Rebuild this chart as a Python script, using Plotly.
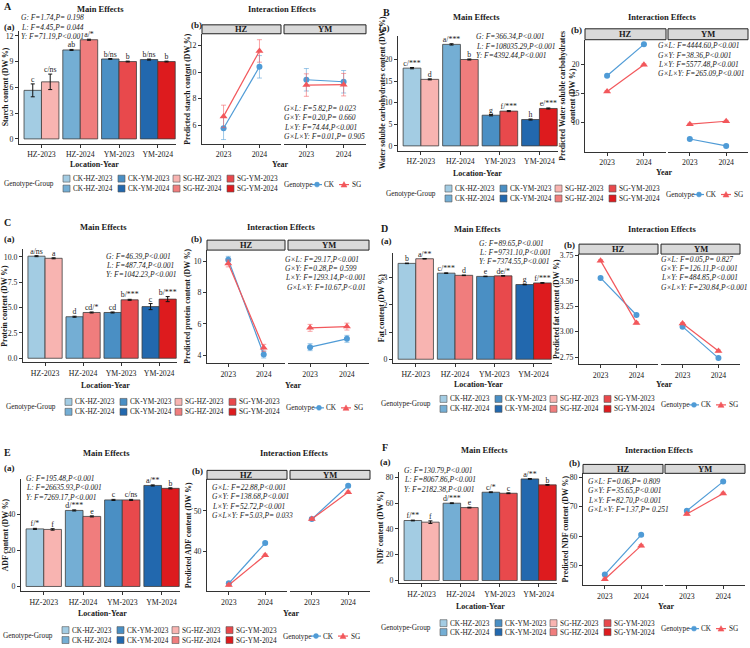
import plotly.graph_objects as go

FONT = "Liberation Serif"
W, H = 750, 648
TXT = "#1a1a1a"
AXC = "#333333"

# ---------------- shared labels / colours ----------------
categories = ["HZ-2023", "HZ-2024", "YM-2023", "YM-2024"]
years = ["2023", "2024"]
locations = ["HZ", "YM"]
ck_groups = ["CK-HZ-2023", "CK-HZ-2024", "CK-YM-2023", "CK-YM-2024"]
sg_groups = ["SG-HZ-2023", "SG-HZ-2024", "SG-YM-2023", "SG-YM-2024"]
ck_colors = ["#a3cce3", "#74aed4", "#4a8fc4", "#2268ae"]
sg_colors = ["#f8b4b1", "#f07d7d", "#e8494c", "#dd1b1e"]
genotypes = ["CK", "SG"]
line_colors = ["#4f9bd6", "#f2575b"]
err_colors = ["rgba(79,155,214,0.55)", "rgba(242,87,91,0.55)"]

# ---------------- A: starch ----------------
starch_ck = [5.65, 10.35, 9.30, 9.23]
starch_ck_err = [0.75, 0.06, 0.05, 0.06]
starch_sg = [6.64, 11.54, 9.00, 9.00]
starch_sg_err = [0.90, 0.06, 0.05, 0.05]
starch_ck_letters = ["c", "ab", "b/ns", "b/ns"]
starch_sg_letters = ["c/ns", "a/*", "b", "b"]
starch_pred_ck = [[5.75, 10.40], [9.42, 9.27]]
starch_pred_ck_err = [[0.85, 0.85], [0.85, 0.85]]
starch_pred_sg = [[6.65, 11.60], [9.02, 9.05]]
starch_pred_sg_err = [[0.85, 0.85], [0.85, 0.85]]
starch_main_stats = ["G: F=1.74,P= 0.198", "L: F=4.45,P= 0.044", "Y: F=71.19,P&lt;0.001"]
starch_int_stats = ["G×L: F=5.82,P= 0.023", "G×Y: F=0.20,P= 0.660",
                    "L×Y: F=74.44,P&lt;0.001", "G×L×Y: F=0.01,P= 0.905"]

# ---------------- B: water soluble carbohydrates ----------------
wsc_ck = [18.0, 23.5, 7.1, 6.1]
wsc_ck_err = [0.15, 0.15, 0.15, 0.12]
wsc_sg = [15.4, 20.0, 8.05, 8.66]
wsc_sg_err = [0.12, 0.12, 0.12, 0.12]
wsc_ck_letters = ["c/***", "a/***", "g", "h"]
wsc_sg_letters = ["d", "b", "f/***", "e/***"]
wsc_pred_ck = [[18.0, 23.4], [7.15, 5.97]]
wsc_pred_ck_err = [[0.15, 0.15], [0.15, 0.15]]
wsc_pred_sg = [[15.3, 19.9], [9.7, 10.2]]
wsc_pred_sg_err = [[0.15, 0.15], [0.15, 0.15]]
wsc_main_stats = ["G: F=366.34,P&lt;0.001", "L: F=108035.29,P&lt;0.001", "Y: F=4392.44,P&lt;0.001"]
wsc_int_stats = ["G×L: F=4444.60,P&lt;0.001", "G×Y: F=38.36,P&lt;0.001",
                 "L×Y: F=5577.48,P&lt;0.001", "G×L×Y: F=265.09,P&lt;0.001"]

# ---------------- C: protein ----------------
protein_ck = [10.08, 4.10, 4.52, 5.10]
protein_ck_err = [0.05, 0.05, 0.05, 0.30]
protein_sg = [9.87, 4.52, 5.77, 5.84]
protein_sg_err = [0.05, 0.05, 0.05, 0.25]
protein_ck_letters = ["a/ns", "d", "cd", "c"]
protein_sg_letters = ["a", "cd/*", "b/***", "b/***"]
protein_pred_ck = [[10.08, 4.05], [4.52, 5.05]]
protein_pred_ck_err = [[0.22, 0.22], [0.22, 0.22]]
protein_pred_sg = [[9.85, 4.48], [5.75, 5.83]]
protein_pred_sg_err = [[0.22, 0.22], [0.22, 0.22]]
protein_main_stats = ["G: F=46.39,P&lt;0.001", "L: F=487.74,P&lt;0.001", "Y: F=1042.23,P&lt;0.001"]
protein_int_stats = ["G×L: F=29.17,P&lt;0.001", "G×Y: F=0.28,P= 0.599",
                     "L×Y: F=1293.14,P&lt;0.001", " G×L×Y: F=10.67,P&lt;0.01"]

# ---------------- D: fat ----------------
fat_ck = [3.53, 3.17, 3.05, 2.75]
fat_ck_err = [0.01, 0.01, 0.01, 0.01]
fat_sg = [3.70, 3.09, 3.07, 2.81]
fat_sg_err = [0.01, 0.01, 0.01, 0.01]
fat_ck_letters = ["b", "c/***", "e", "g"]
fat_sg_letters = ["a/**", "d", "de/*", "f/***"]
fat_pred_ck = [[3.53, 3.165], [3.05, 2.74]]
fat_pred_ck_err = [[0.01, 0.01], [0.01, 0.01]]
fat_pred_sg = [[3.70, 3.087], [3.08, 2.81]]
fat_pred_sg_err = [[0.01, 0.01], [0.01, 0.01]]
fat_main_stats = ["G: F=89.65,P&lt;0.001", "L: F=9731.10,P&lt;0.001", "Y: F=7374.55,P&lt;0.001"]
fat_int_stats = ["G×L: F=0.05,P= 0.827", "G×Y: F=126.11,P&lt;0.001",
                 "L×Y: F=484.85,P&lt;0.001", "G×L×Y: F=230.84,P&lt;0.001"]

# ---------------- E: ADF ----------------
adf_ck = [31.8, 42.0, 47.8, 55.8]
adf_ck_err = [0.3, 0.3, 0.3, 0.3]
adf_sg = [31.5, 38.7, 47.8, 54.2]
adf_sg_err = [0.4, 0.3, 0.3, 0.3]
adf_ck_letters = ["f/*", "d/***", "c", "a/**"]
adf_sg_letters = ["f", "e", "c/ns", "b"]
adf_pred_ck = [[32.2, 42.1], [48.0, 56.2]]
adf_pred_ck_err = [[0.3, 0.3], [0.3, 0.3]]
adf_pred_sg = [[31.8, 39.1], [48.0, 54.6]]
adf_pred_sg_err = [[0.3, 0.3], [0.3, 0.3]]
adf_main_stats = ["G: F=195.48,P&lt;0.001", "L: F=26635.93,P&lt;0.001", "Y: F=7269.17,P&lt;0.001"]
adf_int_stats = ["G×L: F=22.88,P&lt;0.001", "G×Y: F=138.68,P&lt;0.001",
                 "L×Y: F=52.72,P&lt;0.001", "G×L×Y: F=5.03,P= 0.033"]

# ---------------- F: NDF ----------------
ndf_ck = [46.5, 59.9, 68.4, 78.7]
ndf_ck_err = [0.3, 0.3, 0.3, 0.3]
ndf_sg = [45.2, 56.5, 67.6, 74.1]
ndf_sg_err = [1.0, 0.3, 0.3, 0.3]
ndf_ck_letters = ["f/**", "d/***", "c/*", "a/**"]
ndf_sg_letters = ["f", "e", "c", "b"]
ndf_pred_ck = [[47.0, 60.45], [68.6, 78.5]]
ndf_pred_ck_err = [[0.4, 0.4], [0.4, 0.4]]
ndf_pred_sg = [[45.4, 56.8], [67.5, 74.5]]
ndf_pred_sg_err = [[0.4, 0.4], [0.4, 0.4]]
ndf_main_stats = ["G: F=130.79,P&lt;0.001", "L: F=8067.86,P&lt;0.001", "Y: F=2182.38,P&lt;0.001"]
ndf_int_stats = ["G×L: F=0.06,P= 0.809", "G×Y: F=35.65,P&lt;0.001",
                 "L×Y: F=82.70,P&lt;0.001", "G×L×Y: F=1.37,P= 0.251"]

# ---------------- panel specs (data refs + pixel geometry) ----------------
panels = [
    dict(letter="A", ck=starch_ck, ck_err=starch_ck_err, sg=starch_sg, sg_err=starch_sg_err,
         ck_lab=starch_ck_letters, sg_lab=starch_sg_letters,
         pck=starch_pred_ck, pck_err=starch_pred_ck_err, psg=starch_pred_sg, psg_err=starch_pred_sg_err,
         mstats=starch_main_stats, istats=starch_int_stats,
         ytitle="Starch content (DW %)", ptitle="Predicted starch content (DW %)",
         letter_xy=(3, 4), mt_xy=(100, 6), it_xy=(282, 6), a_xy=(3, 24), b_xy=(190, 22),
         bar_box=(19, 176, 28, 142), bar_yr=[-0.58, 12.58], bar_ticks=[0, 3, 6, 9, 12], bar_tt=None,
         bar_yt_x=5, mstats_xy=(20, 15), loc_xy=(94, 163),
         hz=(202, 281), ym=(284, 366), strip=(22, 31), ibot=142, int_yr=[4.57, 12.9],
         int_ticks=[6, 8, 10, 12], int_tt=None, int_yt_x=188, istats_xy=(283, 106), year_xy=(280, 163),
         g0=3, rows=(177, 187)),
    dict(letter="B", ck=wsc_ck, ck_err=wsc_ck_err, sg=wsc_sg, sg_err=wsc_sg_err,
         ck_lab=wsc_ck_letters, sg_lab=wsc_sg_letters,
         pck=wsc_pred_ck, pck_err=wsc_pred_ck_err, psg=wsc_pred_sg, psg_err=wsc_pred_sg_err,
         mstats=wsc_main_stats, istats=wsc_int_stats,
         ytitle="Water soluble carbohydrates content (DW %)",
         ptitle="Predicted Water soluble carbohydrates<br>content (DW %)",
         letter_xy=(382, 10), mt_xy=(476, 14), it_xy=(662, 14), a_xy=(378, 25), b_xy=(570, 27),
         bar_box=(398, 558, 33, 149), bar_yr=[-1.15, 25.5], bar_ticks=[0, 5, 10, 15, 20], bar_tt=None,
         bar_yt_x=382, mstats_xy=(475, 34), loc_xy=(477, 172),
         hz=(585, 666), ym=(668, 748), strip=(26, 37), ibot=150, int_yr=[4.95, 24.2],
         int_ticks=[10, 15, 20], int_tt=None, int_yt_x=568, istats_xy=(657, 43), year_xy=(664, 171),
         g0=385, rows=(187, 197)),
    dict(letter="C", ck=protein_ck, ck_err=protein_ck_err, sg=protein_sg, sg_err=protein_sg_err,
         ck_lab=protein_ck_letters, sg_lab=protein_sg_letters,
         pck=protein_pred_ck, pck_err=protein_pred_ck_err, psg=protein_pred_sg, psg_err=protein_pred_sg_err,
         mstats=protein_main_stats, istats=protein_int_stats,
         ytitle="Protein content (DW %)", ptitle="Predicted protein content (DW %)",
         letter_xy=(3, 221), mt_xy=(103, 226), it_xy=(281, 226), a_xy=(3, 238), b_xy=(190, 238),
         bar_box=(23, 177, 248, 362), bar_yr=[-0.39, 10.78], bar_ticks=[0, 2.5, 5, 7.5, 10],
         bar_tt=["0.0", "2.5", "5.0", "7.5", "10.0"],
         bar_yt_x=5, mstats_xy=(105, 255), loc_xy=(105, 385),
         hz=(207, 285), ym=(288, 369), strip=(239, 249), ibot=363, int_yr=[3.5, 10.7],
         int_ticks=[4, 6, 8, 10], int_tt=None, int_yt_x=188, istats_xy=(284, 258), year_xy=(293, 385),
         g0=5, rows=(402, 412)),
    dict(letter="D", ck=fat_ck, ck_err=fat_ck_err, sg=fat_sg, sg_err=fat_sg_err,
         ck_lab=fat_ck_letters, sg_lab=fat_sg_letters,
         pck=fat_pred_ck, pck_err=fat_pred_ck_err, psg=fat_pred_sg, psg_err=fat_pred_sg_err,
         mstats=fat_main_stats, istats=fat_int_stats,
         ytitle="Fat content (DW %)", ptitle="Predicted fat content (DW %)",
         letter_xy=(380, 227), mt_xy=(477, 228), it_xy=(662, 228), a_xy=(380, 240), b_xy=(563, 244),
         bar_box=(393, 552, 252, 363), bar_yr=[-0.146, 3.91], bar_ticks=[0, 1, 2, 3], bar_tt=None,
         bar_yt_x=381, mstats_xy=(478, 242), loc_xy=(478, 384),
         hz=(579, 658), ym=(661, 740), strip=(243, 253), ibot=364, int_yr=[2.68, 3.765],
         int_ticks=[2.75, 3.0, 3.25, 3.5, 3.75], int_tt=["2.75", "3.00", "3.25", "3.50", "3.75"],
         int_yt_x=556, istats_xy=(660, 258), year_xy=(664, 384),
         g0=380, rows=(399, 409)),
    dict(letter="E", ck=adf_ck, ck_err=adf_ck_err, sg=adf_sg, sg_err=adf_sg_err,
         ck_lab=adf_ck_letters, sg_lab=adf_sg_letters,
         pck=adf_pred_ck, pck_err=adf_pred_ck_err, psg=adf_pred_sg, psg_err=adf_pred_sg_err,
         mstats=adf_main_stats, istats=adf_int_stats,
         ytitle="ADF content (DW %)", ptitle="Predicted ADF content (DW %)",
         letter_xy=(3, 453), mt_xy=(106, 454), it_xy=(294, 454), a_xy=(3, 469), b_xy=(191, 472),
         bar_box=(21, 180, 480, 593), bar_yr=[-2.74, 59.2], bar_ticks=[0, 20, 40], bar_tt=None,
         bar_yt_x=5, mstats_xy=(25, 479), loc_xy=(102, 615),
         hz=(207, 287), ym=(290, 370), strip=(471, 480), ibot=593, int_yr=[30.2, 57.8],
         int_ticks=[40, 50], int_tt=None, int_yt_x=188, istats_xy=(211, 488), year_xy=(291, 615),
         g0=2, rows=(632, 642)),
    dict(letter="F", ck=ndf_ck, ck_err=ndf_ck_err, sg=ndf_sg, sg_err=ndf_sg_err,
         ck_lab=ndf_ck_letters, sg_lab=ndf_sg_letters,
         pck=ndf_pred_ck, pck_err=ndf_pred_ck_err, psg=ndf_pred_sg, psg_err=ndf_pred_sg_err,
         mstats=ndf_main_stats, istats=ndf_int_stats,
         ytitle="NDF content (DW %)", ptitle="Predicted NDF content (DW %)",
         letter_xy=(381, 448), mt_xy=(484, 450), it_xy=(659, 450), a_xy=(379, 463), b_xy=(568, 464),
         bar_box=(399, 557, 473, 585), bar_yr=[-2.3, 83.8], bar_ticks=[0, 20, 40, 60, 80], bar_tt=None,
         bar_yt_x=381, mstats_xy=(403, 471), loc_xy=(480, 608),
         hz=(583, 663), ym=(665, 745), strip=(465, 474), ibot=587, int_yr=[43.3, 81.3],
         int_ticks=[50, 60, 70, 80], int_tt=None, int_yt_x=565, istats_xy=(587, 482), year_xy=(666, 608),
         g0=380, rows=(625, 634)),
]

# ---------------- helpers ----------------
fig = go.Figure()
layout = {}
annotations = []
shapes = []
counter = [0]

STAT_SIZE = 7.5
LEG_SIZE = 7.3


def fx(p):
    return p / W


def fy(p):
    return 1 - p / H


def suffix():
    counter[0] += 1
    return "" if counter[0] == 1 else str(counter[0])


def txt(x, y, s, size=8, xanchor="left", bold=False, italic=False, angle=0):
    if bold:
        s = "<b>" + s + "</b>"
    if italic:
        s = "<i>" + s + "</i>"
    annotations.append(dict(x=fx(x), y=fy(y), xref="paper", yref="paper", text=s, showarrow=False,
                            xanchor=xanchor, yanchor="middle", textangle=angle, borderpad=0,
                            font=dict(family=FONT, size=size, color=TXT)))


def base_axis(**kw):
    d = dict(showline=True, linecolor=AXC, linewidth=1, ticks="outside", ticklen=3, tickwidth=1,
             tickcolor=AXC, tickfont=dict(family=FONT, size=7.8, color=TXT), showgrid=False,
             zeroline=False, fixedrange=True)
    d.update(kw)
    return d


half = (1 - 0.1) / 4  # centre offset of each bar inside its group

for p in panels:
    # ---------- main effects bar chart ----------
    x0, x1, y0, y1 = p["bar_box"]
    s = suffix()
    xs = list(range(len(categories)))
    layout["xaxis" + s] = base_axis(domain=[fx(x0), fx(x1)], anchor="y" + s, range=[-0.58, 3.47],
                                    tickvals=xs, ticktext=categories)
    yax = base_axis(domain=[fy(y1), fy(y0)], anchor="x" + s, range=p["bar_yr"], tickvals=p["bar_ticks"])
    if p["bar_tt"]:
        yax["ticktext"] = p["bar_tt"]
    layout["yaxis" + s] = yax
    for vals, errs, cols in [(p["ck"], p["ck_err"], ck_colors), (p["sg"], p["sg_err"], sg_colors)]:
        fig.add_trace(go.Bar(x=xs, y=vals, xaxis="x" + s, yaxis="y" + s, showlegend=False,
                             marker=dict(color=cols, line=dict(color="#3d3d3d", width=0.8)),
                             error_y=dict(type="data", array=errs, color="#111111", thickness=1, width=2)))
    for vals, errs, labs, sign in [(p["ck"], p["ck_err"], p["ck_lab"], -1), (p["sg"], p["sg_err"], p["sg_lab"], 1)]:
        fig.add_trace(go.Scatter(x=[i + sign * half for i in xs], y=[v + e for v, e in zip(vals, errs)],
                                 mode="text", text=labs, textposition="top center", cliponaxis=False,
                                 textfont=dict(family=FONT, size=7.8, color=TXT),
                                 xaxis="x" + s, yaxis="y" + s, showlegend=False, hoverinfo="skip"))
    txt(p["bar_yt_x"], (y0 + y1) / 2, p["ytitle"], size=7.8, bold=True, angle=-90, xanchor="center")
    for k, line in enumerate(p["mstats"]):
        txt(p["mstats_xy"][0], p["mstats_xy"][1] + 9.5 * k, line, size=STAT_SIZE, italic=True)
    txt(p["loc_xy"][0], p["loc_xy"][1], "Location-Year", bold=True, xanchor="center")

    # ---------- interaction facets ----------
    st0, st1 = p["strip"]
    for li, (bx0, bx1) in enumerate([p["hz"], p["ym"]]):
        s = suffix()
        layout["xaxis" + s] = base_axis(domain=[fx(bx0), fx(bx1)], anchor="y" + s, type="category",
                                        range=[-0.6, 1.6])
        yax = base_axis(domain=[fy(p["ibot"]), fy(st1)], anchor="x" + s, range=p["int_yr"],
                        tickvals=p["int_ticks"])
        if p["int_tt"]:
            yax["ticktext"] = p["int_tt"]
        if li == 1:
            yax.update(showline=False, ticks="", showticklabels=False)
        layout["yaxis" + s] = yax
        for g, (vals, errs) in enumerate([(p["pck"], p["pck_err"]), (p["psg"], p["psg_err"])]):
            fig.add_trace(go.Scatter(x=years, y=vals[li], mode="lines+markers",
                                     line=dict(color=line_colors[g], width=1.2),
                                     marker=dict(symbol=["circle", "triangle-up"][g], size=[6, 7][g],
                                                 color=line_colors[g]),
                                     error_y=dict(type="data", array=errs[li], color=err_colors[g],
                                                  thickness=1, width=2.5),
                                     xaxis="x" + s, yaxis="y" + s, showlegend=False, cliponaxis=False))
        shapes.append(dict(type="rect", xref="paper", yref="paper", x0=fx(bx0), x1=fx(bx1),
                           y0=fy(st1), y1=fy(st0), fillcolor="#d9d9d9", line=dict(color="#222222", width=1)))
        txt((bx0 + bx1) / 2, (st0 + st1) / 2, locations[li], size=8.5, bold=True, xanchor="center")
    txt(p["int_yt_x"], (st1 + p["ibot"]) / 2, p["ptitle"], size=7.8, bold=True, angle=-90, xanchor="center")
    for k, line in enumerate(p["istats"]):
        txt(p["istats_xy"][0], p["istats_xy"][1] + 9.5 * k, line, size=STAT_SIZE, italic=True)
    txt(p["year_xy"][0], p["year_xy"][1], "Year", bold=True, xanchor="center")

    # ---------- titles ----------
    txt(p["letter_xy"][0], p["letter_xy"][1], p["letter"], size=10, bold=True)
    txt(p["mt_xy"][0], p["mt_xy"][1], "Main Effects", size=8.5, bold=True, xanchor="center")
    txt(p["it_xy"][0], p["it_xy"][1], "Interaction Effects", size=8.5, bold=True, xanchor="center")
    txt(p["a_xy"][0], p["a_xy"][1], "(a)", size=9, bold=True)
    txt(p["b_xy"][0], p["b_xy"][1], "(b)", size=9, bold=True)

    # ---------- legends ----------
    g0 = p["g0"]
    r0, r1 = p["rows"]
    ymid = (r0 + r1) / 2
    txt(g0, ymid, "Genotype-Group", size=LEG_SIZE)
    cols = [(ck_groups[0:2], ck_colors[0:2]), (ck_groups[2:4], ck_colors[2:4]),
            (sg_groups[0:2], sg_colors[0:2]), (sg_groups[2:4], sg_colors[2:4])]
    col_x = [60, 115, 170, 224]
    for c, (names, colrs) in enumerate(cols):
        for r, (nm, cl) in enumerate(zip(names, colrs)):
            yy = [r0, r1][r]
            sx = g0 + col_x[c]
            shapes.append(dict(type="rect", xref="paper", yref="paper", x0=fx(sx), x1=fx(sx + 7),
                               y0=fy(yy + 3.5), y1=fy(yy - 3.5), fillcolor=cl,
                               line=dict(color="#555555", width=0.6)))
            txt(sx + 9, yy, nm, size=LEG_SIZE)
    gy = ymid + 1
    txt(g0 + 280, gy, "Genotype", size=LEG_SIZE)
    for g, (cx, tx) in enumerate([(g0 + 314, g0 + 320), (g0 + 341, g0 + 348)]):
        shapes.append(dict(type="line", xref="paper", yref="paper", x0=fx(cx - 5), x1=fx(cx + 5),
                           y0=fy(gy), y1=fy(gy), line=dict(color=line_colors[g], width=1.2)))
        if g == 0:
            shapes.append(dict(type="circle", xref="paper", yref="paper", x0=fx(cx - 2.5), x1=fx(cx + 2.5),
                               y0=fy(gy + 2.5), y1=fy(gy - 2.5), fillcolor=line_colors[g],
                               line=dict(color=line_colors[g], width=0.5)))
        else:
            path = "M {},{} L {},{} L {},{} Z".format(fx(cx - 3), fy(gy + 2.5), fx(cx + 3), fy(gy + 2.5),
                                                      fx(cx), fy(gy - 3))
            shapes.append(dict(type="path", xref="paper", yref="paper", path=path,
                               fillcolor=line_colors[g], line=dict(color=line_colors[g], width=0.5)))
        txt(tx, gy, genotypes[g], size=LEG_SIZE)

fig.update_layout(**layout)
fig.update_layout(annotations=annotations, shapes=shapes, barmode="group", bargap=0.1, bargroupgap=0,
                  width=W, height=H, autosize=False, margin=dict(l=0, r=0, t=0, b=0, pad=0),
                  showlegend=False, plot_bgcolor="white", paper_bgcolor="white",
                  font=dict(family=FONT, size=8, color=TXT))
fig.write_html("out.html")
